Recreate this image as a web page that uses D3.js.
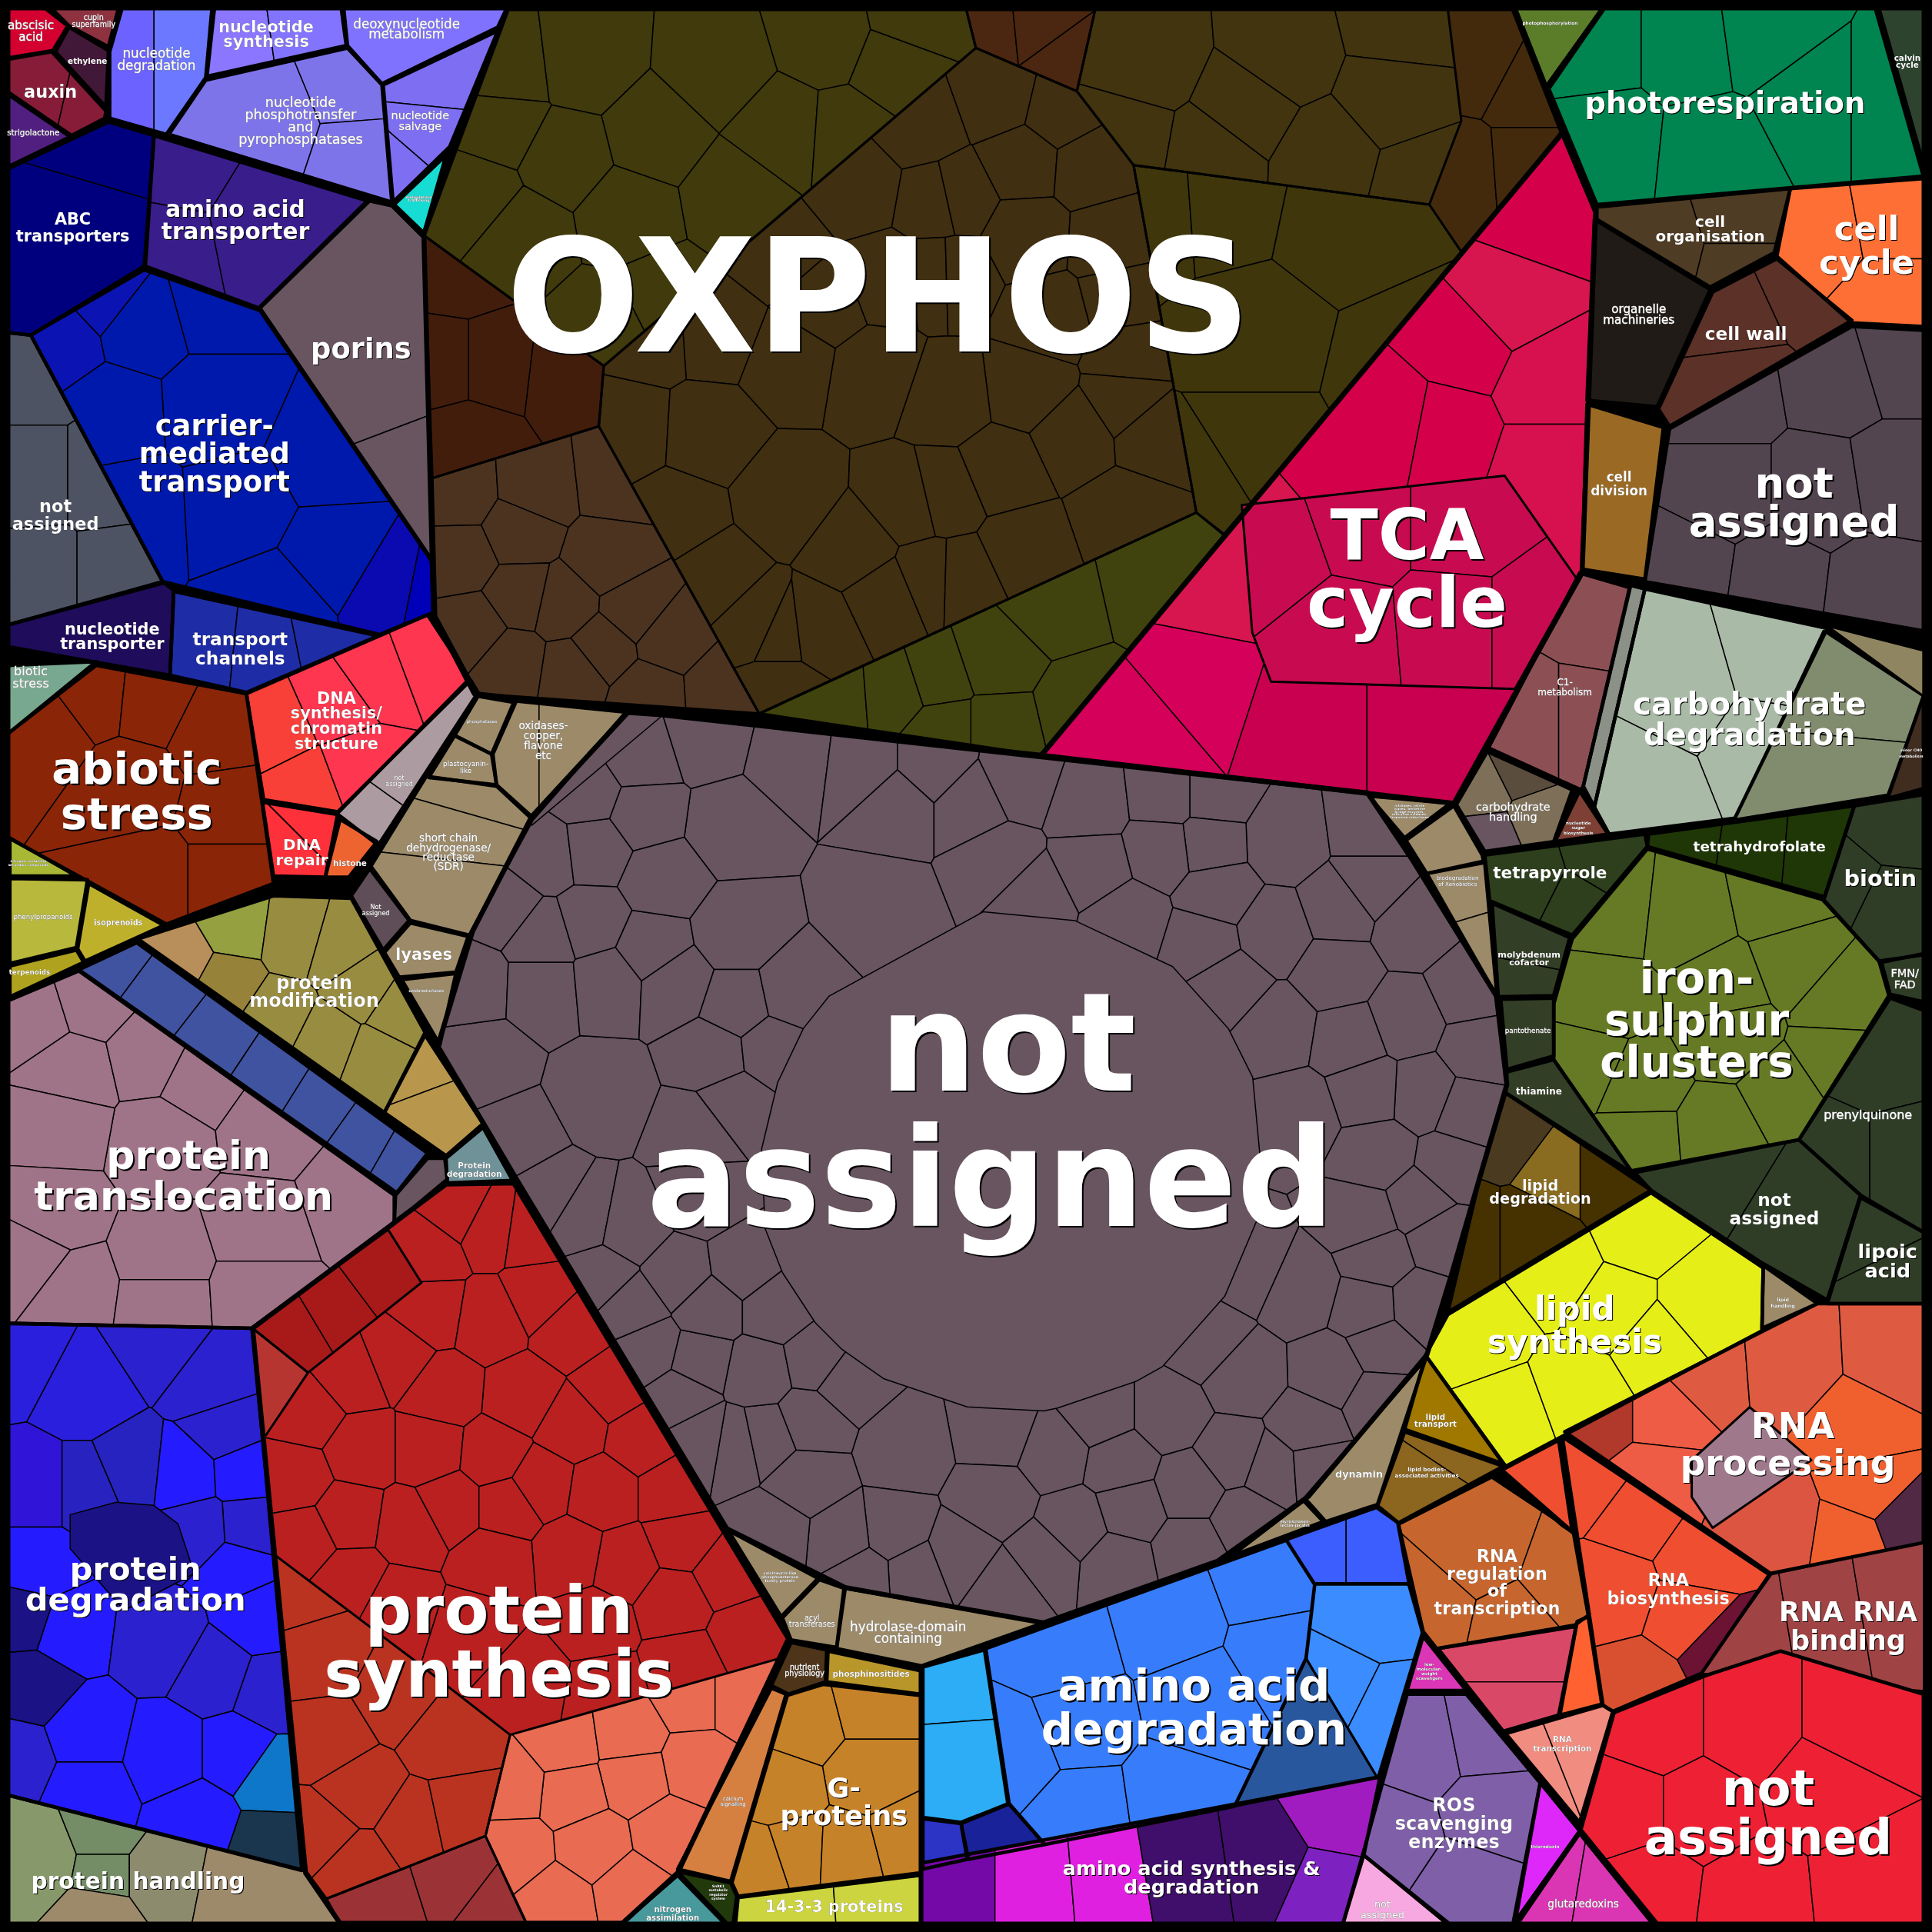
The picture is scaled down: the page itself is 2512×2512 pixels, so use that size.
<!DOCTYPE html>
<html><head><meta charset="utf-8">
<style>html,body{margin:0;padding:0;background:#000}svg{display:block}</style>
<script src="https://cdn.jsdelivr.net/npm/d3@7"></script></head><body>
<script>
// Reading calibration: each helper maps points read in an enlarged view of the picture to picture units.
const read=(ox,oy,kx,ky)=>pts=>pts.map(([a,b])=>[ox+kx*a,oy+ky*b]);
const z9=read(337,0,.2787,.3782), z10=read(749,0,.3384,.398), z11=read(349.6,574.3,.5653,.4777), z12=read(0,780,.438,.502);

// Region ids in painting order
const regionIds=["abscisic","cupin","ethylene","auxin","strigo","nucDeg","nucSyn","deoxy","phospho","salvage","endo",
"abc","aaTrans","porins","carrier","transNA","nucTrans","channels","dnaSyn","dnaRepair","histone","dnaNA",
"phosphatases","oxidases","plasto","sdr","enzNA","lyases","oxidored","mod","gold","strip","gap","protDegSmall","transloc",
"degr","degrDark","handling","synth","rust","salmon","crimson","synDark","synTri",
"oxRB","oxOlive","oxNotch","oxBrown","oxLeft","oxLow","oxTR","oxRO","oxBO",
"tca","tcaInner","na","naSliver","naCore","misc1","misc2","xeno","dynamin","myro","hydrolase","acyl","calcineurin",
"nutrient","phosphino","gprot","p1433","calcium","snrk","nitro",
"aaLight","aaDeep","aaNavy","aaMain","aaBright","aaMid","aaDark","aaSyn",
"scav","ros","pinkNA","thio","gluta","rnaReg","rnaTop","rnaPink","rnaOrange","rnaTrans","rnaBio","rnaProc","rnaMauve","rnaBind","redNA",
"lipDeg","lipSyn","lipHand","lipTrans","lipBody","tetrapyr","moly","panto","thiamine","thf","iron","biotin","fmn","prenyl","lipoic","coNA",
"photophos","photoresp","calvin","cellOrg","cellCycle","organelle","cellWall","cellDiv","cellNA",
"greyStrip","carbLight","carbMid","carbTan","minor","c1","carbHand","nucSugar",
"biotic","abiotic","nComp","phenyl","isopren","terpen"];

// Fill of each region: one colour, or one colour per cell
const regionColors={abscisic:"#d4002f",cupin:"#8e3240",ethylene:"#421838",auxin:"#861c38",strigo:"#501f80",
nucDeg:["#6c62ff","#6b78ff"],nucSyn:["#8a76ff","#8374ff"],deoxy:"#7f72ff",phospho:"#7e74ea",salvage:"#7d6ef2",endo:"#16dcd4",
abc:"#00007f",aaTrans:"#391d8b",porins:"#685560",carrier:["#0b14b3","#0b14b3","#0019ad","#0019ad","#0019ad","#0019ad","#0019ad","#0019ad","#0019ad","#0019ad","#0019ad","#0a0ab0","#0000b8"],
transNA:"#4d5362",nucTrans:"#1f0c5a",channels:"#1e2ca6",
dnaSyn:["#f83f38","#f83f38","#fe3650","#fe3650","#fe3650","#fe3650"],dnaRepair:"#fe3039",histone:"#ee6430",dnaNA:"#ac9ba0",
phosphatases:"#9c8a68",oxidases:"#9c8a68",plasto:"#9c8a68",sdr:"#9c8a68",enzNA:"#5f4e57",lyases:"#9c8a68",oxidored:"#9c8a68",
mod:["#b88f5a","#95a040","#978239","#988c41","#988c41","#988c41","#988c41","#988c41","#988c41","#988c41"],gold:"#b8974d",strip:"#4053a0",gap:"#685560",protDegSmall:"#6f9298",transloc:"#a07488",
degr:["#2b1fde","#2b1fde","#2b21cf","#2b21cf","#2b21cf","#3015d8","#2823c0","#2723c0","#241cff","#241cff","#2b21cf","#2b21cf","#241cff","#241cff","#2b21cf","#2b21cf","#2b21cf","#241cff","#241cff","#1a1285","#1a1285","#2b21cf","#241cff","#241cff","#241cff","#241cff","#241cff","#0f77c9","#19364e"],
degrDark:"#1a1285",handling:["#87996a","#748d66","#748d66","#8d8b6e","#9d8a6b","#9d8a6b"],
synth:"#ba2020",rust:"#ba3320",salmon:"#e86b52",crimson:"#9b3336",synDark:"#a81a1a",synTri:"#b73530",
oxOlive:"#403a0c",oxNotch:"#4b2610",oxBrown:"#402f10",oxLeft:"#431d0c",oxLow:"#4b3320",oxTR:"#41340f",oxRB:"#432a0d",oxRO:"#3f360c",oxBO:"#40430d",
tca:["#d5004a","#d7154f","#d5004a","#d5004a","#d5004a","#d7104f","#d7104f","#d7154f","#d5005a","#d5005a","#c8004f","#c8004f"],tcaInner:"#c80b50",
na:"#685560",naSliver:"#685560",naCore:"#685560",misc1:"#9c8a68",misc2:"#9c8a68",xeno:"#9c8a68",dynamin:"#9c8a68",myro:"#9c8a68",hydrolase:"#9c8a68",acyl:"#9c8a68",calcineurin:"#9c8a68",
nutrient:"#4e3418",phosphino:"#b8962a",gprot:"#c68228",p1433:"#ccd43f",calcium:"#d58040",snrk:"#22390b",nitro:"#48999c",
aaLight:"#2cadf5",aaDeep:"#2c34c6",aaNavy:"#1a2299",aaMain:"#377dfb",aaBright:"#3c5eff",aaMid:"#3a8cff",aaDark:"#29579e",
aaSyn:["#7509a8","#e020e0","#e020e0","#3f0f6b","#3f0f6b","#a01cc0","#7d22c0"],
scav:"#db36b6",ros:"#7f5fa8",pinkNA:"#f8a8e0",thio:"#de28fa",gluta:"#da36b3",rnaReg:"#c6662e",rnaTop:"#ef4f30",rnaPink:"#da4868",rnaOrange:"#ff6230",rnaTrans:"#f08c80",
rnaBio:["#ef4f30","#ef4f30","#ef4f30","#ef4f30","#ef4f30","#d95030","#6c1233"],
rnaProc:["#b0392b","#de5a40","#de5a40","#de5a40","#ee5c45","#ee5c45","#f0602e","#f0602e","#dc5540","#f0602e","#522944"],rnaMauve:"#a0788c",rnaBind:"#a04345",redNA:"#ee2034",
lipDeg:["#463200","#4a3a20","#8a6c20","#463200","#463200"],lipSyn:"#e6ee18",lipHand:"#9c8a68",lipTrans:"#a07800",lipBody:"#8c651e",
tetrapyr:"#2d3f1c",moly:"#333e26",panto:"#333e26",thiamine:"#333e26",thf:"#1f3606",iron:"#667a25",biotin:"#2f3d27",fmn:"#2f3d27",prenyl:"#2f3d27",lipoic:"#2f3d27",coNA:"#2f3d27",
photophos:"#5b7d2a",photoresp:"#008450",calvin:"#2d432e",cellOrg:"#4f3c24",cellCycle:"#fe6f35",organelle:"#201b16",cellWall:"#5c3128",cellDiv:"#9a6a24",cellNA:"#53454f",
greyStrip:"#8b9186",carbLight:"#a9baa7",carbMid:"#818c6e",carbTan:"#8f8560",minor:"#402d20",c1:"#8c5054",carbHand:["#7e6f58","#5a4d3d","#685560","#7e6f58"],nucSugar:"#7e4035",
biotic:"#79a890",abiotic:"#8b2508",nComp:"#a8b834",phenyl:"#b8b83c",isopren:"#bfb02c",terpen:"#afa21e"};

// Outline of each region, in picture units
const regionOutlines={
abscisic:[[7,7],[37,7],[55,21],[43,41],[7,47]],cupin:[[42,7],[96,7],[88,38],[56,21]],ethylene:[[56,22],[88,41],[86,87],[45,42]],
auxin:[[7,48],[42,42],[86,90],[85,96],[58,110],[7,75]],strigo:[[7,77],[57,111],[7,135]],
nucDeg:[[99,7],[172,7],[167,63],[135,109],[89,96],[89,42]],nucSyn:[[174,7],[277,7],[281,37],[168,62]],deoxy:[[279,7],[411,7],[404,22],[310,68],[282,37]],
phospho:[[167,65],[282,39],[310,69],[318,164],[137,109]],salvage:[[311,69],[404,25],[365,119],[319,164]],endo:[[362,126],[344,189],[320,166]],
abc:[[7,137],[88,99],[125,110],[117,216],[25,272],[7,270]],aaTrans:[[125,110],[298,163],[210,250],[118,216]],porins:[[300,163],[318,167],[344,193],[351,455],[211,250]],
carrier:[[25,272],[117,219],[211,252],[350,455],[352,497],[308,515],[132,472]],transNA:[[7,270],[25,272],[132,472],[7,507]],
nucTrans:[[7,507],[133,473],[141,479],[138,548],[7,525]],channels:[[141,480],[307,516],[200,562],[138,548]],
dnaSyn:[[200,563],[347,499],[381,551],[275,659],[214,649]],dnaRepair:[[213,651],[274,661],[264,712],[222,711]],histone:[[276,665],[306,683],[283,712],[264,712]],dnaNA:[[273,660],[382,552],[388,562],[307,686]],
phosphatases:[[388,565],[417,570],[399,612],[369,597]],oxidases:[[419,569],[508,578],[433,664],[403,637],[400,612]],plasto:[[369,597],[399,612],[403,637],[348,631]],
sdr:[[346,630],[403,638],[432,665],[381,759],[333,747],[301,703]],enzNA:[[300,705],[332,747],[311,771],[285,727]],lyases:[[333,749],[380,760],[370,789],[324,793],[312,773]],oxidored:[[326,795],[370,790],[357,848]],
mod:[[112,762],[222,727],[285,729],[345,838],[312,903]],gold:[[345,840],[392,912],[362,938],[312,903]],strip:[[64,787],[111,765],[347,936],[322,968]],gap:[[321,970],[347,940],[361,940],[363,957],[320,993]],protDegSmall:[[362,940],[392,915],[416,958],[363,960]],
transloc:[[7,812],[64,788],[320,970],[320,993],[204,1078],[7,1074]],degr:[[7,1074],[205,1078],[245,1518],[7,1457]],
degrDark:z12([[130,895],[215,875],[285,880],[330,910],[360,990],[230,1050],[130,950]]),handling:[[7,1457],[247,1518],[276,1561],[7,1561]],
synth:[[205,1078],[362,961],[417,960],[640,1330],[550,1520],[505,1561],[276,1561],[248,1520]],rust:[[223,1262],[333,1345],[414,1408],[394,1490],[324,1518],[265,1541],[248,1518]],salmon:[[414,1408],[636,1345],[550,1520],[506,1560],[427,1560],[394,1490]],crimson:[[265,1541],[394,1490],[427,1561],[276,1561]],
synDark:[[205,1078],[315,998],[342,1041],[250,1114]],synTri:[[205,1078],[250,1114],[213,1169]],
oxOlive:[[412,7],[784,7],[792,39],[490,297],[344,191]],oxNotch:[[784,7],[889,7],[874,74],[792,39]],oxBrown:[[490,297],[792,39],[874,74],[920,134],[971,416],[616,579],[486,346]],oxLeft:[[344,191],[490,297],[486,346],[351,388]],
oxLow:[[351,388],[486,346],[616,579],[388,563],[354,500]],oxTR:[[874,74],[889,7],[1175,7],[1186,98],[1160,166],[920,134]],oxRB:[[1175,7],[1228,7],[1268,105],[1187,205],[1160,166]],oxRO:[[920,134],[1160,166],[1187,206],[993,434],[971,416]],oxBO:[[617,579],[971,416],[994,434],[845,613]],
tca:[[1268,108],[1295,172],[1284,465],[1180,652],[845,613]],tcaInner:z10([[765,1030],[1395,970],[1568,1180],[1420,1405],[835,1390],[790,1290]]),
na:z11([[283,8],[330,12],[1345,145],[1410,260],[1530,490],[1545,640],[1465,965],[1430,1100],[1260,1340],[1130,1450],[880,1555],[595,1495],[425,1395],[125,805],[10,575],[60,380],[145,185]]),
naSliver:z11([[283,8],[332,14],[145,200],[145,185]]),
naCore:z11([[572,490],[793,347],[925,362],[1065,440],[1145,545],[1180,628],[1190,755],[1190,860],[1140,1000],[1050,1120],[1012,1145],[900,1190],[880,1195],[770,1188],[650,1140],[590,1090],[552,1045],[505,960],[480,885],[475,750],[498,637],[535,545]]),
misc1:[[1111,646],[1177,652],[1140,680]],misc2:[[1141,682],[1180,654],[1203,694],[1204,699],[1158,709]],xeno:[[1158,709],[1205,700],[1215,809]],
dynamin:[[1157,1103],[1118,1221],[1076,1235],[1059,1216]],myro:[[1058,1218],[1074,1235],[999,1263]],hydrolase:[[686,1289],[847,1317],[748,1352],[679,1338]],acyl:[[665,1282],[685,1289],[679,1337],[642,1331],[635,1313]],calcineurin:[[591,1242],[664,1281],[634,1312]],
nutrient:[[642,1333],[671,1339],[670,1365],[640,1375],[626,1368]],phosphino:[[672,1340],[747,1356],[747,1375],[671,1365]],gprot:[[668,1367],[747,1376],[747,1520],[599,1539],[594,1528],[639,1376]],p1433:[[599,1540],[747,1522],[747,1561],[597,1561]],
calcium:[[550,1517],[626,1370],[638,1375],[593,1527]],snrk:[[550,1519],[593,1528],[598,1539],[595,1561],[590,1561]],nitro:[[550,1522],[588,1561],[505,1561]],
aaLight:[[749,1353],[799,1339],[818,1464],[780,1479],[749,1475]],aaDeep:[[749,1476],[780,1480],[785,1509],[749,1517]],aaNavy:[[780,1480],[819,1464],[848,1497],[786,1509]],
aaMain:[[800,1338],[1044,1250],[1067,1286],[1060,1346],[1002,1466],[848,1497],[819,1464]],aaBright:[[1044,1250],[1117,1224],[1134,1236],[1143,1285],[1067,1285]],aaMid:[[1067,1286],[1143,1286],[1154,1325],[1118,1443],[1060,1346]],aaDark:[[1060,1346],[1118,1443],[1002,1466]],
aaSyn:[[748,1512],[1120,1442],[1107,1505],[1090,1561],[748,1561]],
scav:[[1155,1328],[1190,1372],[1142,1372]],ros:[[1142,1375],[1190,1375],[1250,1447],[1228,1561],[1176,1561],[1106,1505]],pinkNA:[[1106,1505],[1174,1561],[1090,1561]],thio:[[1250,1447],[1282,1486],[1230,1559]],gluta:[[1282,1488],[1341,1561],[1232,1561]],
rnaReg:[[1218,1195],[1268,1238],[1277,1244],[1289,1311],[1278,1319],[1166,1338],[1155,1324],[1135,1237]],rnaTop:[[1219,1193],[1265,1169],[1276,1243]],rnaPink:[[1167,1338],[1279,1320],[1265,1392],[1220,1405]],rnaOrange:[[1280,1316],[1289,1312],[1300,1383],[1266,1392]],rnaTrans:[[1222,1407],[1301,1384],[1309,1389],[1282,1479]],
rnaBio:[[1268,1166],[1436,1278],[1381,1358],[1309,1389],[1301,1384]],rnaProc:[[1270,1162],[1475,1058],[1561,1058],[1561,1252],[1437,1277]],rnaMauve:[[1373,1185],[1420,1142],[1470,1185],[1390,1240],[1373,1215]],rnaBind:[[1438,1278],[1561,1252],[1561,1372],[1381,1358]],
redNA:[[1310,1390],[1384,1360],[1445,1340],[1561,1375],[1561,1561],[1345,1561],[1283,1485]],
lipDeg:[[1222,887],[1340,966],[1175,1065],[1200,960]],lipSyn:[[1175,1067],[1340,968],[1431,1029],[1430,1080],[1222,1190],[1157,1100]],lipHand:[[1431,1027],[1475,1058],[1430,1078]],lipTrans:[[1157,1100],[1220,1188],[1140,1160]],lipBody:[[1140,1162],[1220,1190],[1135,1236],[1118,1222]],
tetrapyr:[[1205,694],[1335,677],[1337,687],[1276,759],[1209,731]],moly:[[1211,733],[1274,761],[1261,808],[1216,809]],panto:[[1218,811],[1261,810],[1261,857],[1223,868]],thiamine:[[1223,870],[1261,860],[1325,952],[1222,887]],
thf:[[1338,677],[1505,654],[1481,728],[1337,687]],iron:[[1337,689],[1479,730],[1525,780],[1533,808],[1460,925],[1325,952],[1261,860],[1261,815],[1276,762]],biotin:[[1505,654],[1561,645],[1561,775],[1525,780],[1480,730]],fmn:[[1527,781],[1561,774],[1561,813],[1534,807]],
prenyl:[[1534,810],[1561,820],[1561,1000],[1510,970],[1460,925]],lipoic:[[1510,972],[1561,1000],[1561,1058],[1483,1058]],coNA:[[1325,950],[1460,925],[1510,970],[1483,1055],[1430,1025],[1340,966]],
photophos:[[1230,7],[1300,7],[1255,70]],photoresp:[[1302,7],[1522,7],[1561,143],[1296,166],[1257,72]],calvin:[[1525,7],[1561,7],[1561,133]],
cellOrg:[[1296,168],[1453,153],[1440,205],[1388,233],[1296,178]],cellCycle:[[1453,153],[1561,145],[1561,265],[1503,262],[1442,208]],organelle:[[1294,178],[1388,235],[1345,330],[1288,325]],cellWall:[[1390,237],[1442,210],[1503,260],[1355,346],[1346,332]],cellDiv:[[1288,328],[1350,347],[1335,470],[1284,462]],cellNA:[[1355,348],[1503,265],[1561,268],[1561,512],[1335,472]],
greyStrip:[[1323,475],[1335,478],[1299,633],[1294,655],[1285,638]],carbLight:[[1335,478],[1483,510],[1408,664],[1306,677],[1294,655],[1299,633]],carbMid:[[1480,512],[1561,565],[1532,645],[1408,665]],carbTan:[[1483,508],[1561,528],[1561,565]],minor:[[1532,648],[1561,565],[1561,640]],
c1:[[1282,465],[1323,477],[1285,638],[1283,641],[1208,607]],carbHand:[[1207,610],[1276,641],[1261,683],[1205,691],[1182,653]],nucSugar:[[1282,642],[1305,677],[1262,683]],
biotic:[[7,540],[78,537],[7,595]],abiotic:[[7,595],[78,540],[200,563],[222,717],[135,750],[7,680]],nComp:[[8,680],[62,711],[8,711]],phenyl:[[8,713],[71,714],[62,769],[8,782]],isopren:[[72,717],[133,751],[69,780],[63,770]],terpen:[[8,784],[62,771],[68,781],[8,809]]};

// Voronoi sites of the cells inside each region (regions not listed hold one cell)
const regionSites={
auxin:[[30,75],[74,85]],nucDeg:[[100,50],[150,50]],nucSyn:[[195,35],[245,28]],phospho:[[210,100],[295,65],[300,130]],salvage:[[350,60],[345,112],[325,135]],
abc:[[85,105],[60,190]],aaTrans:[[145,140],[135,195],[210,180]],porins:[[280,280],[335,425]],
carrier:[[48,275],[85,240],[113,262],[175,245],[90,335],[175,330],[265,370],[105,415],[195,410],[270,450],[225,490],[320,480],[345,485]],
transNA:[[25,300],[25,390],[85,390],[30,465],[95,465]],channels:[[165,520],[215,525],[265,515]],
dnaSyn:[[225,590],[250,640],[270,570],[305,545],[345,530],[290,625]],dnaRepair:[[235,690],[255,670]],dnaNA:[[290,680],[340,610]],
oxidases:[[410,610],[465,610]],sdr:[[375,640],[365,675],[360,720]],
mod:[[148,778],[190,753],[183,797],[240,760],[275,770],[225,825],[265,845],[305,860],[325,820],[295,800]],gold:[[340,865],[355,905]],
strip:[[85,785],[125,815],[170,850],[215,880],[255,905],[290,930],[325,950]],
transloc:z12([[60,90],[170,60],[130,180],[280,150],[370,190],[300,290],[110,260],[500,270],[650,380],[480,430],[100,410],[300,480],[60,480],[135,530],[300,550],[480,540]]),
degr:z12([[30,640],[160,700],[300,620],[390,680],[420,760],[70,850],[160,850],[240,820],[345,830],[450,825],[460,915],[370,920],[70,980],[120,1080],[300,1100],[400,1150],[500,1180],[480,1060],[440,980],[50,1060],[60,1170],[30,1290],[160,1250],[310,1280],[440,1280],[160,1340],[365,1390],[505,1320],[500,1430]]),
handling:[[35,1510],[85,1490],[85,1520],[125,1520],[80,1552],[200,1535]],
synth:z12([[650,670],[735,640],[800,565],[905,580],[1000,540],[795,470],[850,405],[905,430],[985,440],[1060,595],[970,705],[820,695],[670,790],[795,790],[915,800],[1060,750],[1135,690],[570,730],[545,835],[565,935],[645,900],[760,915],[835,880],[940,880],[1000,845],[1115,860],[1190,770],[1250,860],[1265,935],[1155,975],[1060,960],[915,970],[735,1040],[650,1000],[1345,990],[1250,1035],[1385,1090],[1270,1140],[1100,1070],[1120,1180],[980,1160],[880,1080]]),
rust:z12([[555,1020],[590,1120],[740,1190],[825,1250],[610,1260],[665,1340],[595,1410],[660,1465],[770,1400],[850,1385]]),
salmon:z12([[1045,1265],[1165,1250],[1280,1190],[1370,1190],[1290,1300],[1175,1320],[1060,1345],[950,1335],[1100,1430],[1240,1410],[955,1440],[1030,1520],[1170,1500]]),
crimson:z12([[700,1520],[845,1480],[920,1530]]),synDark:[[238,1078],[268,1060],[308,1030]],
oxOlive:z9([[265,150],[490,130],[880,150],[1200,80],[1400,140],[1450,40],[1070,280],[1260,290],[700,290],[250,270],[430,340],[620,460],[930,420],[180,420],[310,500],[560,700],[720,640]]),
oxNotch:z10([[160,60],[280,50],[340,120]]),
oxBrown:z9([[1290,400],[1470,270],[1520,430],[1060,540],[1190,650],[1370,600],[1530,590],[1340,800],[1090,770],[880,710],[680,720],[620,920],[850,930],[1080,1070],[760,1110],[870,1240],[1000,1340],[1060,1360],[1170,1350],[1060,1480],[1280,1180],[1370,1280],[1500,1240],[1440,1080]]).concat(z10([[180,200],[330,230],[240,330],[80,400],[400,340],[250,480],[70,560],[450,490],[300,650],[480,610],[500,720],[250,790],[60,810],[490,820],[365,890],[550,880],[480,1050],[190,960],[50,1010],[240,1120],[90,1180]])),
oxLeft:z9([[130,580],[220,780],[450,800],[90,780],[150,950]]),
oxLow:z9([[130,1060],[350,1050],[590,1030],[135,1195],[300,1140],[560,1200],[305,1280],[430,1300],[170,1350],[640,1310],[545,1390],[280,1420],[460,1440],[740,1370],[680,1490],[890,1480]]),
oxTR:z10([[540,130],[860,110],[1150,50],[1130,200],[490,280],[690,310],[770,220],[970,320],[1200,370]]),
oxRB:z10([[1340,130],[1450,180],[1290,350],[1450,340]]),
oxRO:z10([[560,420],[720,410],[1000,460],[800,680],[1150,750],[800,920],[670,990]]),
oxBO:z10([[560,1180],[300,1230],[170,1340],[30,1380],[380,1450],[180,1490],[50,1490]]).concat(z9([[1220,1490],[1400,1480]])),
tca:z10([[1480,430],[1400,620],[1300,700],[1130,860],[1250,880],[1500,780],[1500,950],[690,1180],[640,1400],[530,1480],[930,1480],[1200,1480]]),
tcaInner:z10([[850,1130],[1050,1070],[1290,1070],[1000,1290],[1270,1270],[1460,1270]]),
na:z11([[300,85],[395,50],[430,200],[520,85],[620,100],[720,100],[845,125],[670,165],[775,165],[815,260],[645,340],[945,165],[1055,150],[1125,150],[1225,225],[1350,205],[1118,230],[1050,240],[950,270],[865,320],[1000,360],[1130,315],[1110,400],[1210,380],[1305,340],[1350,300],[1410,370],[1300,450],[1215,545],[1145,470],[1400,530],[1320,565],[1490,480],[1505,580],[1425,655],[1345,650],[1490,685],[1245,690],[1360,760],[1465,780],[1420,840],[1340,870],[1450,900],[1360,935],[1420,1015],[1345,1020],[1250,990],[1175,950],[1295,1130],[1365,1085],[1360,1175],[1165,1135],[1115,1080],[1060,1200],[1260,1225],[1210,1295],[1270,1290],[1150,1270],[1090,1325],[990,1285],[960,1200],[895,1265],[815,1230],[680,1260],[810,1345],[925,1390],[1005,1360],[1090,1430],[1170,1380],[985,1455],[880,1445],[825,1495],[760,1440],[665,1400],[695,1470],[590,1410],[620,1475],[495,1400],[540,1315],[440,1250],[545,1210],[480,1240],[470,1130],[555,1110],[595,1145],[390,1240],[360,1170],[315,1090],[385,1110],[400,1020],[495,1020],[355,965],[450,950],[290,1020],[245,965],[220,870],[165,830],[120,735],[285,885],[385,720],[390,830],[245,655],[75,600],[60,470],[160,475],[255,465],[315,410],[160,390],[105,340],[165,250],[235,240],[225,145],[305,180],[330,290],[230,365],[440,385],[350,470],[440,505],[520,485],[405,590],[490,580],[435,675]]),
xeno:[[1185,720],[1200,770]],gprot:[[653,1396],[707,1382],[707,1441],[633,1454],[618,1510],[645,1501],[689,1503],[732,1492]],p1433:[[640,1550],[715,1545]],
aaLight:[[775,1365],[780,1430]],aaMain:[[860,1340],[950,1315],[1030,1285],[875,1400],[975,1380],[1040,1340],[880,1470],[950,1460],[825,1420]],aaBright:[[1070,1262],[1115,1262]],aaMid:[[1085,1370],[1115,1310],[1125,1390]],
aaSyn:[[775,1535],[840,1535],[900,1530],[960,1520],[1030,1510],[1085,1475],[1075,1530]],
ros:[[1155,1420],[1205,1410],[1130,1490],[1210,1470],[1190,1530]],gluta:[[1250,1530],[1310,1540]],
rnaReg:[[1200,1260],[1160,1305],[1230,1320],[1270,1285]],rnaPink:[[1225,1345],[1225,1385]],rnaTrans:[[1240,1440],[1290,1420]],
rnaBio:[[1290,1200],[1330,1230],[1380,1265],[1310,1290],[1372,1310],[1330,1370],[1398,1335]],
rnaProc:[[1305,1150],[1385,1110],[1450,1105],[1540,1100],[1345,1150],[1340,1195],[1510,1160],[1520,1210],[1440,1240],[1505,1250],[1545,1235]],rnaBind:[[1420,1320],[1480,1310],[1540,1300]],
redNA:[[1345,1400],[1420,1400],[1505,1400],[1320,1470],[1380,1470],[1480,1450],[1340,1530],[1420,1540],[1520,1530]],
lipDeg:[[1195,1000],[1225,920],[1265,950],[1300,950],[1240,1000]],lipSyn:[[1200,1080],[1265,1030],[1330,1000],[1310,1060],[1380,1060],[1225,1150],[1280,1130],[1345,1090]],lipBody:[[1180,1175],[1160,1205]],
tetrapyr:[[1238,718],[1305,697],[1280,739]],moly:[[1245,770],[1240,795]],thf:[[1365,680],[1426,689],[1471,693]],
iron:[[1311,739],[1365,745],[1447,728],[1462,780],[1493,807],[1396,805],[1302,811],[1490,863],[1402,838],[1290,863],[1329,880],[1330,925],[1395,920],[1450,890]],
biotin:[[1499,718],[1538,672],[1532,734]],prenyl:[[1525,860],[1490,940],[1545,940]],lipoic:[[1520,1000],[1540,1040]],coNA:[[1385,960],[1450,1000]],
photoresp:[[1293,35],[1371,35],[1430,27],[1303,116],[1391,125],[1471,83],[1534,83]],cellOrg:[[1340,200],[1420,175],[1420,220]],cellCycle:[[1480,190],[1535,180],[1535,240]],
cellWall:[[1405,265],[1470,235],[1410,305]],cellNA:[[1400,320],[1490,305],[1540,290],[1400,400],[1475,400],[1540,390],[1370,460],[1440,470],[1525,480]],
carbLight:[[1430,600],[1330,640],[1370,560],[1440,540]],carbMid:[[1495,570],[1490,625]],c1:[[1300,495],[1245,590],[1285,590]],carbHand:[[1205,643],[1235,628],[1209,678],[1247,662]],
abiotic:[[35,590],[75,560],[125,565],[175,590],[105,640],[185,660],[120,710],[185,710]]};

// Label texts and where each one sits
const labelTexts=[["abscisic","acid"],["cupin","superfamily"],["ethylene"],["auxin"],["strigolactone"],["nucleotide","degradation"],["nucleotide","synthesis"],["deoxynucleotide","metabolism"],["nucleotide","phosphotransfer","and","pyrophosphatases"],["nucleotide","salvage"],["endoplasmic","trafficking"],
["ABC","transporters"],["amino acid","transporter"],["porins"],["carrier-","mediated","transport"],["not","assigned"],["nucleotide","transporter"],["transport","channels"],["DNA","synthesis/","chromatin","structure"],["DNA","repair"],["histone"],["not","assigned"],
["phosphatases"],["oxidases-","copper,","flavone","etc"],["plastocyanin-","like"],["short chain","dehydrogenase/","reductase","(SDR)"],["Not","assigned"],["lyases"],["oxidoreductases"],["protein","modification"],["Protein","degradation"],["biotic","stress"],["abiotic","stress"],
["nitrogen-containing","secondary compounds"],["phenylpropanoids"],["isoprenoids"],["terpenoids"],["protein","translocation"],["protein","degradation"],["protein handling"],["protein","synthesis"],["calcium","signalling"],["acyl","transferases"],["calcineurin-like","phosphoesterase","family protein"],["hydrolase-domain","containing"],["nutrient","physiology"],["phosphinositides"],["G-","proteins"],["14-3-3 proteins"],["SnRK1","metabolic","regulator","system"],["nitrogen","assimilation"],
["amino acid","degradation"],["amino acid synthesis &","degradation"],["ROS","scavenging","enzymes"],["not","assigned"],["low-","molecular-","weight","scavengers"],["thioredoxin"],["glutaredoxins"],["RNA","transcription"],["not","assigned"],["RNA RNA","binding"],["RNA","biosynthesis"],["RNA","regulation","of","transcription"],["RNA","processing"],["dynamin"],["myrosinases-","lectin-jacalin"],["lipid bodies-","associated activities"],["lipid","transport"],["lipid","synthesis"],["lipid","handling"],["lipid","degradation"],["not","assigned"],["lipoic","acid"],["prenylquinone"],["thiamine"],["pantothenate"],["molybdenum","cofactor"],["tetrapyrrole"],["tetrahydrofolate"],["biotin"],["FMN/","FAD"],["iron-","sulphur","clusters"],
["carbohydrate","handling"],["nucleotide","sugar","biosynthesis"],["nitrilases, nitrile","lyases, berberine","bridge enzymes,","reticuline oxidases,","troponine reductases"],["biodegradation","of Xenobiotics"],["C1-","metabolism"],["carbohydrate","degradation"],["minor CHO","metabolism"],["not","assigned"],["cell","division"],["organelle","machineries"],["cell wall"],["cell","organisation"],["cell","cycle"],["photorespiration"],["calvin","cycle"],["photophosphorylation"],["TCA","cycle"],["not","assigned"],["OXPHOS"]];
// [x, first baseline, size, line step, weight flag, second-line shift]
const labelAnchors=[[25,24,9.5,9,0],[76,16,6,6,0],[71,52,6.5,0,1],[41,79,14,0,1],[27,110,6.5,0,0],[127,47,10.5,9.5,0],[216,26,13,12,1],[330,23,10.5,8.5,0],[244,87,11,10,0],[341,97,9,8.5,0],[340,161,3,2.5,1],
[59,182,13,14,1],[191,176,18.5,18,1],[293,291,23,0,1],[174,353,23,23,1],[45,416,14,14,1],[91,515,13,12,1],[195,524,14.5,15,1],[273,571,13,12.3,1],[245,690,12.5,12,1],[284,703,6.5,0,1],[324,633,5,5,0],
[391,587,3.6,0,0],[441,592,8.5,8,0],[378,622,5.5,5.5,0],[364,683,8.5,7.7,0],[305,738,5,5,0],[344,779,13,0,1],[346,805,3.5,0,0],[255,803,15,14,1],[385,948,6.5,7,1],[25,548,10,10,0],[111,636,36,37,1],
[23,700,2.6,3,1],[35,746,5.4,0,0],[96,751,6,0,1],[24,791,5.5,0,1],[153,949,32.5,33,1,-4],[110,1282,26,25,1],[112,1533,18.5,0,1],[405,1325,53,52,1],[595,1461,4.3,4.5,0],[659,1315,6,5,0],[633,1278,3.1,3,1],[737,1324,10.5,9,0],[653,1355,6,5,0],[707,1361,6.5,0,1],[685,1459,22,22,1],[677,1552,13,0,1],[583,1532,2.8,3.2,1],[546,1552,6.3,6.5,1],
[969,1380,36,36,1],[967,1522,16,15,1],[1180,1470,15,15,1],[1122,1548,8,9,0],[1160,1352,3.4,3.8,1],[1254,1500,3.6,0,1],[1285,1548,8.5,0,0],[1268,1414,6.5,7.5,1],[1435,1465,40,40,1],[1500,1316,22,23,1],[1354,1287,14,15,1],[1215,1268,14,14,1],[1455,1167,28.5,30,1,-4],[1103,1199,8,0,1],[1051,1236,3.3,3.2,1],[1158,1194,4.5,5,1],[1165,1152,6.5,6,1],[1278,1071,26.5,27,1],[1447,1056,4,5,1],[1250,966,12,11,1],[1440,979,14.5,15,1],[1532,1021,16,16,1],[1516,908,10,0,0],[1249,888,7.5,0,1],[1240,838,5.5,0,0],[1241,777,7,6.5,1],[1258,713,13.5,0,1],[1428,691,11.5,0,1],[1526,719,18,0,1],[1546,793,9,9,0],[1377,806,35,34,1],
[1228,658,9,8,0],[1281,669,3.4,4,1],[1144,655,2.6,2.3,1],[1183,714,4.5,5,0],[1270,556,7.5,8,0],[1420,580,25,25,1],[1551,610,3,5,1],[1456,404,34,31,1],[1314,391,10.5,11,1],[1330,254,9.5,9,0],[1417,276,14.5,0,1],[1388,184,12.5,12,1],[1515,195,27,27,1],[1400,92,24,0,1],[1548,49,6.5,6,1],[1258,20,3.6,0,1],[1142,454,57,55,1],[818,885,111,110,1,-14],[713,285,128,0,1]];

const S=2512,U=1568;
const x=d3.scaleLinear().domain([0,U]).range([0,S]), y=d3.scaleLinear().domain([0,U]).range([0,S]);
const line=d3.line().x(d=>x(d[0])).y(d=>y(d[1])).curve(d3.curveLinearClosed);
const svg=d3.select("body").append("svg").attr("width",S).attr("height",S).attr("viewBox",`0 0 ${S} ${S}`);
svg.append("rect").attr("width",S).attr("height",S).attr("fill","#000");

function clip(cell,hull){ // Sutherland-Hodgman against a convex hull
  const h=d3.polygonArea(hull)<0?hull:hull.slice().reverse();
  let out=cell;
  for(let i=0;i<h.length;i++){
    const a=h[i],b=h[(i+1)%h.length],inp=out;out=[];
    const side=p=>(b[0]-a[0])*(p[1]-a[1])-(b[1]-a[1])*(p[0]-a[0]);
    for(let j=0;j<inp.length;j++){
      const p=inp[j],q=inp[(j+1)%inp.length],sp=side(p),sq=side(q);
      if(sp>=0)out.push(p);
      if((sp>=0)!==(sq>=0)){const t=sp/(sp-sq);out.push([p[0]+t*(q[0]-p[0]),p[1]+t*(q[1]-p[1])]);}
    }
    if(!out.length)break;
  }
  return out;
}
function cellsOf(id){
  const hull=regionOutlines[id],sites=regionSites[id]||[];
  if(sites.length<2)return [{poly:hull,i:0}];
  const v=d3.Delaunay.from(sites).voronoi([-200,-200,U+200,U+200]);
  return sites.map((s,i)=>{const c=v.cellPolygon(i);return c?{poly:clip(c.slice(0,-1),hull),i}:null}).filter(c=>c&&c.poly.length>2);
}
const thin=1.5, mid=4.6;
const subtle=new Set(["oxOlive","oxNotch","oxBrown","oxLeft","oxLow","oxTR","oxRO","oxBO","tcaInner","aaDark","aaMid","aaBright","rust","salmon","crimson","synDark","synTri","rnaMauve","carbTan","carbMid"]);
const noOutline=new Set(["naCore","naSliver","degrDark","oxRB","rnaBind"]);
const layers=svg.append("g").attr("stroke","#000").attr("stroke-width",thin).attr("stroke-linejoin","round");
regionIds.forEach(id=>{
  const col=regionColors[id],g=layers.append("g").attr("class",id);
  g.selectAll("path").data(cellsOf(id)).join("path")
   .attr("d",c=>line(c.poly)).attr("fill",c=>Array.isArray(col)?col[c.i%col.length]:col);
});
const outs=svg.append("g").attr("fill","none").attr("stroke","#000").attr("stroke-linejoin","round");
regionIds.filter(id=>!noOutline.has(id)).forEach(id=>outs.append("path").attr("d",line(regionOutlines[id])).attr("stroke-width",subtle.has(id)?3:mid));
// Outer strokes of the main groups
const groupOutlines=[[[412,7],[1228,7],[1268,108],[845,613],[385,563],[352,500],[344,190]],regionOutlines.tca,regionOutlines.na,regionOutlines.synth];
outs.selectAll("path.top").data(groupOutlines).join("path").attr("class","top").attr("d",line).attr("stroke-width",6.5);
// Frame
svg.append("path").attr("d",`M0 0H${S}V${S}H0Z M${x(7.5)} ${y(7.5)}V${y(1561)}H${x(1561)}V${y(7.5)}Z`).attr("fill","#000").attr("fill-rule","evenodd");

const lab=svg.append("g").attr("fill","#fff").attr("text-anchor","middle").attr("font-family","'DejaVu Sans'");
labelTexts.forEach((lines,i)=>{
  const [lx,ly,sz,step,b,shift=0]=labelAnchors[i];
  const px=x(sz), d=Math.min(2.5,Math.max(.6,px*.04));
  const t=lab.append("text").attr("font-size",px).attr("font-weight",b?"bold":"normal").style("filter",`drop-shadow(${d}px ${d}px 0 #000)`);
  if(!b)t.attr("stroke","#fff").attr("stroke-width",Math.min(.5,px*.03));
  lines.forEach((s,j)=>t.append("tspan").attr("x",x(lx+(j?shift:0))).attr("y",y(ly+j*step)).text(s));
});
</script></body></html>
